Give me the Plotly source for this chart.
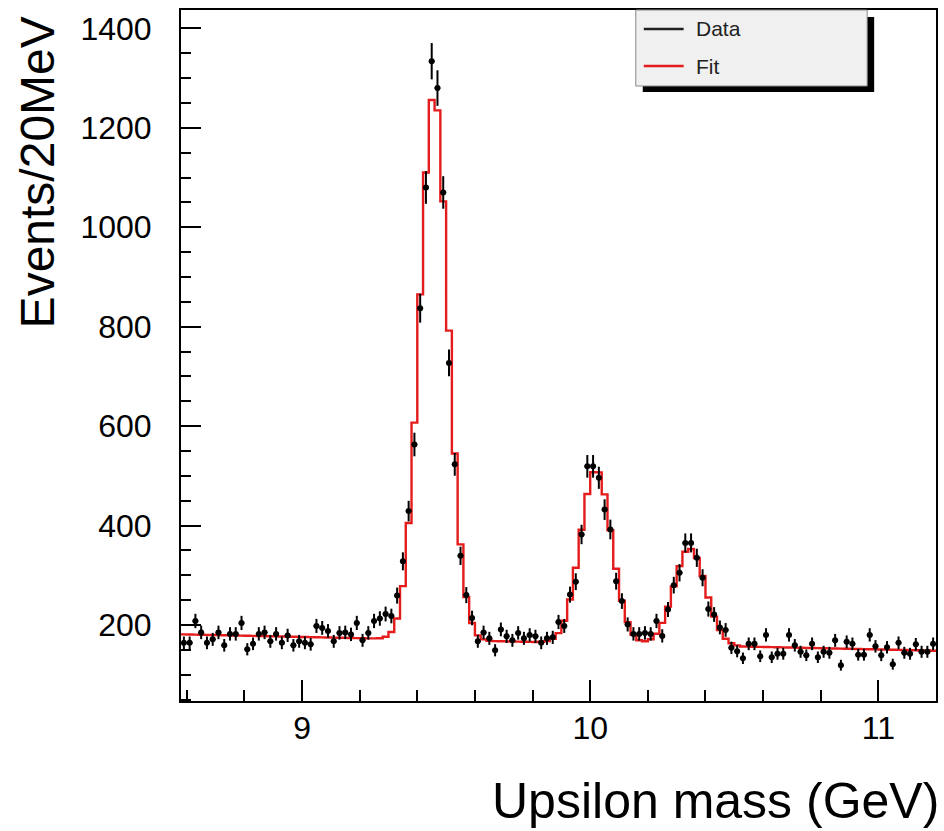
import numpy as np
import plotly.graph_objects as go

# ---- data (20 MeV bins starting at 8.58 GeV) ----
mass_lo = 8.58
bin_width = 0.02

counts = [
    164, 164, 208, 185, 164, 171, 185, 159, 182, 182,
    204, 151, 162, 182, 185, 167, 182, 164, 179, 159,
    167, 164, 161, 198, 194, 188, 167, 184, 185, 181,
    204, 169, 184, 208, 213, 222, 218, 259, 328, 429,
    563, 837, 1080, 1334, 1280, 1070, 727, 523, 339, 260,
    214, 167, 185, 173, 149, 191, 177, 169, 184, 173,
    180, 177, 164, 173, 175, 206, 198, 261, 287, 382,
    519, 519, 496, 432, 392, 288, 248, 201, 182, 182,
    184, 182, 208, 178, 231, 280, 305, 365, 365, 335,
    295, 232, 221, 195, 190, 154, 147, 133, 162, 162,
    137, 180, 135, 142, 142, 180, 159, 146, 139, 162,
    135, 146, 144, 169, 119, 166, 162, 140, 140, 180,
    157, 139, 155, 121, 164, 144, 142, 161, 146, 146,
    162,
]

fit = [
    181.0, 180.7, 180.5, 180.2, 180.0, 179.7, 179.5, 179.2, 179.0, 178.7,
    178.5, 178.2, 178.0, 177.7, 177.5, 177.2, 177.0, 176.7, 176.5, 176.2,
    176.0, 175.7, 175.5, 175.2, 175.0, 174.7, 174.4, 174.2, 173.9, 173.7,
    173.4, 173.2, 172.9, 172.9, 173.3, 176.1, 185.7, 213.0, 278.0, 405.0,
    607.0, 865.0, 1110.0, 1256.0, 1235.0, 1052.0, 792.0, 545.0, 362.0, 256.0,
    204.0, 179.0, 171.0, 168.3, 167.4, 167.1, 166.9, 166.6, 166.4, 166.1,
    165.9, 165.6, 166.1, 167.6, 171.9, 183.6, 208.4, 251.1, 314.9, 391.6,
    463.4, 507.1, 506.9, 462.6, 390.4, 313.1, 248.8, 205.6, 180.3, 169.1,
    167.3, 171.3, 182.3, 204.1, 236.8, 277.6, 318.3, 347.1, 352.8, 334.6,
    298.3, 255.1, 216.8, 189.6, 172.3, 163.1, 158.8, 156.6, 156.3, 156.1,
    155.8, 155.5, 155.3, 155.0, 154.8, 154.5, 154.3, 154.0, 153.8, 153.5,
    153.3, 153.0, 152.8, 152.5, 152.3, 152.0, 151.8, 151.5, 151.3, 151.0,
    150.8, 150.5, 150.3, 150.0, 149.8, 149.5, 149.2, 149.0, 148.7, 148.5,
    148.2,
]

x_range = [8.58, 11.2]
y_range = [47, 1437]

n = len(counts)
centers = mass_lo + bin_width * (np.arange(n) + 0.5)
edges = mass_lo + bin_width * np.arange(n + 1)
errors = np.sqrt(np.array(counts, dtype=float))

W, H = 944, 831
ML, MR, MT, MB = 181, 6, 10, 130
PW, PH = W - ML - MR, H - MT - MB


def px(x):
    return (x - ML) / PW


def py(y):
    return (H - MB - y) / PH


FONT = "Liberation Sans, Arial, Helvetica, sans-serif"
RED = "rgb(228,28,28)"

fig = go.Figure()

fig.add_trace(go.Scatter(
    x=edges, y=list(fit) + [fit[-1]], mode="lines",
    line=dict(color=RED, width=2.4, shape="hv"),
    showlegend=False, hoverinfo="skip",
))

fig.add_trace(go.Scatter(
    x=centers, y=counts, mode="markers",
    marker=dict(color="black", size=6, symbol="circle"),
    error_y=dict(type="data", array=errors, color="black", thickness=2, width=0),
    error_x=dict(type="constant", value=bin_width / 2, color="black", thickness=1.5, width=0),
    showlegend=False,
))

fig.update_xaxes(
    range=x_range, showgrid=False, zeroline=False,
    showline=True, mirror=True, linecolor="black", linewidth=2,
    ticks="inside", ticklen=21, tickwidth=1.5, tickcolor="black",
    tick0=0, dtick=1,
    minor=dict(ticks="inside", ticklen=11, tickwidth=1.5, tickcolor="black", dtick=0.2, tick0=0, showgrid=False),
    tickfont=dict(family=FONT, size=32, color="black"),
    ticklabelstandoff=-2,
)
fig.update_yaxes(
    range=y_range, showgrid=False, zeroline=False,
    showline=True, mirror=True, linecolor="black", linewidth=2,
    ticks="inside", ticklen=20, tickwidth=1.5, tickcolor="black",
    tick0=0, dtick=200,
    minor=dict(ticks="inside", ticklen=10, tickwidth=1.5, tickcolor="black", dtick=50, tick0=0, showgrid=False),
    tickfont=dict(family=FONT, size=32, color="black"),
    ticklabelstandoff=21,
)

shapes = [
    # legend shadow
    dict(type="rect", xref="paper", yref="paper",
         x0=px(644), x1=px(876), y0=py(92), y1=py(17),
         fillcolor="black", line=dict(width=0), layer="above"),
    # legend box
    dict(type="rect", xref="paper", yref="paper",
         x0=px(637), x1=px(869), y0=py(86), y1=py(10),
         fillcolor="#f0f0f0", line=dict(color="#888888", width=1), layer="above"),
    dict(type="line", xref="paper", yref="paper",
         x0=px(645), x1=px(685), y0=py(29), y1=py(29),
         line=dict(color="#222222", width=2.5), layer="above"),
    dict(type="line", xref="paper", yref="paper",
         x0=px(645), x1=px(685), y0=py(66), y1=py(66),
         line=dict(color=RED, width=2.5), layer="above"),
]

annotations = [
    dict(text="Data", xref="paper", yref="paper", x=px(695), y=py(29),
         xanchor="left", yanchor="middle", showarrow=False,
         font=dict(family=FONT, size=21, color="#222222")),
    dict(text="Fit", xref="paper", yref="paper", x=px(695), y=py(66),
         xanchor="left", yanchor="middle", showarrow=False,
         font=dict(family=FONT, size=21, color="#222222")),
    dict(text="Upsilon mass (GeV)", xref="paper", yref="paper", x=px(943), y=py(801),
         xanchor="right", yanchor="middle", showarrow=False,
         font=dict(family=FONT, size=50, color="black")),
    dict(text="Events/20MeV", xref="paper", yref="paper", x=px(38), y=py(14),
         xanchor="center", yanchor="top", textangle=-90, showarrow=False,
         font=dict(family=FONT, size=48, color="black")),
]

fig.update_layout(
    width=W, height=H, autosize=False,
    margin=dict(l=ML, r=MR, t=MT, b=MB, pad=0),
    paper_bgcolor="white", plot_bgcolor="white",
    shapes=shapes, annotations=annotations,
    showlegend=False,
)

fig.write_html("out.html")
